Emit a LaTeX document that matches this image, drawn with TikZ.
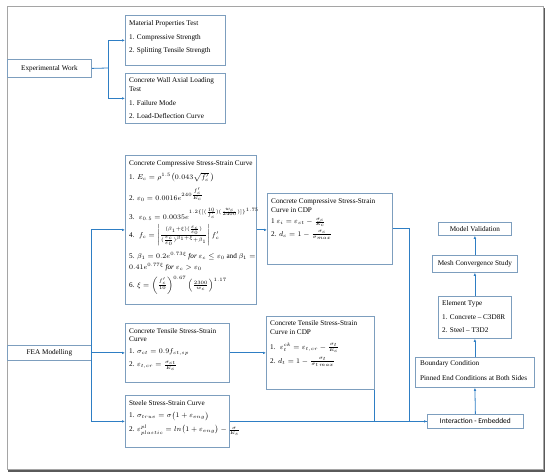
\documentclass[tikz,border=0pt]{standalone}
\usepackage{fontspec}
\setmainfont{Liberation Serif}
\newfontfamily\calib{Carlito}
\usepackage{amsmath}
\DeclareMathSizes{7.2}{7.2}{5.2}{4}
\usetikzlibrary{arrows.meta}
\definecolor{boxc}{RGB}{125,158,190}
\definecolor{linec}{RGB}{46,126,196}
\definecolor{framec}{RGB}{165,165,165}
\definecolor{shadc}{RGB}{90,90,90}
\begin{document}
\begin{tikzpicture}[x=1pt,y=-1pt,
  box/.style={draw=boxc,line width=0.8pt,anchor=north west,inner sep=0pt,fill=white,font=\fontsize{7.2}{8.6}\selectfont},
  txt/.style={anchor=west,inner sep=0pt,font=\fontsize{7.2}{8.6}\selectfont},
  conn/.style={draw=linec,line width=0.8pt},
  arr/.style={conn,-{Latex[length=3pt,width=2.6pt]}}]
\useasboundingbox (0,0) rectangle (550,476);
% frame
\draw[shadc,line width=1.3pt] (8,471) -- (544,471) -- (544,8);
\draw[framec,line width=1pt] (7,7) rectangle (543,470);

% experimental
\node[box,minimum width=84pt,minimum height=18pt] (exp) at (7,59) {Experimental Work};
\node[box,minimum width=100pt,minimum height=50pt] (mat) at (125,15) {};
\node[txt] (mat1) at (129,24) {Material Properties Test};
\node[txt] (mat2) at (129,37.5) {1. Compressive Strength};
\node[txt] (mat3) at (129,51) {2. Splitting Tensile Strength};
\node[box,minimum width=100pt,minimum height=50pt] (wall) at (125,73) {};
\node[txt] (wall1) at (129,80.5) {Concrete Wall Axial Loading};
\node[txt] (wall2) at (129,89.5) {Test};
\node[txt] (wall3) at (129,103) {1. Failure Mode};
\node[txt] (wall4) at (129,116.5) {2. Load-Deflection Curve};
\coordinate (ej) at (108,68);
\draw[conn] (exp.east) -- (ej);
\draw[arr] (ej) |- (mat.west);
\draw[arr] (ej) |- (wall.west);

% FEA
\node[box,minimum width=84pt,minimum height=15pt] (fea) at (7,345) {FEA Modelling};

% compressive
\node[box,minimum width=131pt,minimum height=149pt] (comp) at (125,155) {};
\node[txt] (comp0) at (129,164) {Concrete Compressive Stress-Strain Curve};
\node[txt] (comp1) at (129,177.5) {1. $E_c=\rho^{1.5}\big(0.043\sqrt{f_c'}\,\big)$};
\node[txt] (comp2) at (129,195) {2. $\varepsilon_0=0.0016e^{240\frac{f_c'}{E_c}}$};
\node[txt] (comp3) at (129,214) {3. \ $\varepsilon_{0.5}=0.0035e^{1.2\{[(\frac{10}{f_c'})(\frac{w_c}{2400})]\}^{1.75}}$};
\node[txt] (comp4) at (129,235.5) {4. \ $f_c=\left|\frac{(\beta_1+\xi)(\frac{\varepsilon_c}{\varepsilon_0})}{(\frac{\varepsilon_c}{\varepsilon_0})^{\beta_1+\xi}+\beta_1}\right|f_c'$};
\node[txt] (comp5) at (129,256.5) {5. $\beta_1=0.2e^{0.73\xi}\ \mathit{for}\ \varepsilon_c\le\varepsilon_0$ and $\beta_1=$};
\node[txt] (comp5b) at (129,267.5) {$0.41e^{0.77\xi}\ \mathit{for}\ \varepsilon_c>\varepsilon_0$};
\node[txt] (comp6) at (129,285) {6. $\xi=\left(\frac{f_c'}{10}\right)^{0.67}\left(\frac{2300}{w_c}\right)^{1.17}$};

% tensile
\node[box,minimum width=104pt,minimum height=59pt] (tens) at (125,323) {};
\node[txt] (tens0) at (129,331) {Concrete Tensile Stress-Strain};
\node[txt] (tens0b) at (129,339.5) {Curve};
\node[txt] (tens1) at (129,352.5) {1. $\sigma_{ct}=0.9f_{ct,sp}$};
\node[txt] (tens2) at (129,365.5) {2. $\varepsilon_{t,cr}=\frac{\sigma_{ct}}{E_c}$};

% steel
\node[box,minimum width=104pt,minimum height=52pt] (steel) at (125,395) {};
\node[txt] (st0) at (129,403) {Steele Stress-Strain Curve};
\node[txt] (st1) at (129,416) {1. $\sigma_{true}=\sigma\big(1+\varepsilon_{eng}\big)$};
\node[txt] (st2) at (129,430) {2. $\varepsilon^{pl}_{plastic}=ln\big(1+\varepsilon_{eng}\big)-\frac{\sigma}{E_s}$};

% CDP compressive
\node[box,minimum width=125pt,minimum height=71pt] (ccdp) at (267,193) {};
\node[txt] (ccdp0) at (271,201.5) {Concrete Compressive Stress-Strain};
\node[txt] (ccdp0b) at (271,210) {Curve in CDP};
\node[txt] (ccdp1) at (271,222.5) {1 $\varepsilon_i=\varepsilon_{ct}-\frac{\sigma_c}{E_c}$};
\node[txt] (ccdp2) at (271,235) {2. $d_c=1-\frac{\sigma_c}{\sigma_{max}}$};

% CDP tensile
\node[box,minimum width=108pt,minimum height=73pt] (tcdp) at (266,316) {};
\node[txt] (tcdp0) at (270,323.5) {Concrete Tensile Stress-Strain};
\node[txt] (tcdp0b) at (270,332) {Curve in CDP};
\node[txt] (tcdp1) at (270,347.5) {1. \ $\varepsilon_t^{ck}=\varepsilon_{t,cr}-\frac{\sigma_t}{E_c}$};
\node[txt] (tcdp2) at (270,362) {2. $d_t=1-\frac{\sigma_t}{\sigma_{t\,max}}$};

% right column
\node[box,minimum width=96pt,minimum height=14pt,font=\calib\fontsize{7.4}{8.6}\selectfont] (inter) at (427,414) {Interaction - Embedded};
\node[box,minimum width=119pt,minimum height=30pt] (bc) at (415,357) {};
\node[txt] (bc0) at (420,364) {Boundary Condition};
\node[txt] (bc1) at (420,378.5) {Pinned End Conditions at Both Sides};
\node[box,minimum width=73pt,minimum height=42pt] (elem) at (438,296) {};
\node[txt] (el0) at (442,303.5) {Element Type};
\node[txt] (el1) at (442,317) {1. Concrete -- C3D8R};
\node[txt] (el2) at (442,330.5) {2. Steel -- T3D2};
\node[box,minimum width=85pt,minimum height=17pt] (mesh) at (432,255) {Mesh Convergence Study};
\node[box,minimum width=73pt,minimum height=13pt] (mv) at (438,222) {Model Validation};

% connectors
\draw[arr] (fea.east) |- (comp.west);
\draw[arr] (fea.east) -- (tens.west);
\draw[arr] (fea.east) |- (steel.west);
\draw[arr] (comp.east) -- (comp.east -| ccdp.west);
\draw[arr] (tens.east) -- (tens.east -| tcdp.west);
\draw[conn] (ccdp.east) -- ++(17,0) |- (inter.west);
\draw[conn] (tcdp.south east) |- (inter.west);
\draw[arr] (steel.east) -- (inter.west);
\draw[arr] (inter.north) -- (bc.south);
\draw[arr] (bc.north) -- (elem.south);
\draw[arr] (elem.north) -- (mesh.south);
\draw[arr] (mesh.north) -- (mv.south);
\end{tikzpicture}
\end{document}
